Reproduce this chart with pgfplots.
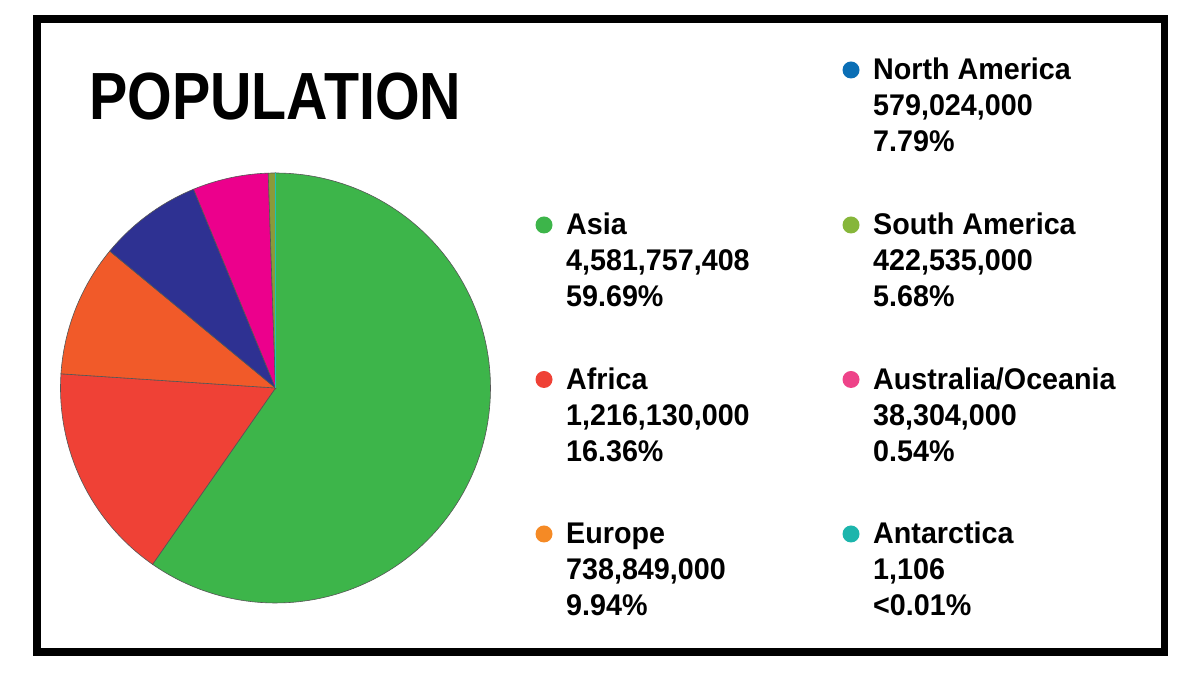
\documentclass[border=0pt]{standalone}
\usepackage{pgfplots}
\usepackage{pgfplotstable}
\pgfplotsset{compat=1.18}
\usepackage{fontspec}
\setmainfont{Liberation Sans}
\newfontfamily\titlefont[FakeStretch=0.86]{Liberation Sans}
\newfontfamily\legfont[FakeStretch=0.96]{Liberation Sans}

\definecolor{pieAsia}{HTML}{3DB54A}
\definecolor{pieAfrica}{HTML}{EF4136}
\definecolor{pieEurope}{HTML}{F15A29}
\definecolor{pieNA}{HTML}{2E3192}
\definecolor{pieAus}{HTML}{EC008C}
\definecolor{pieSA}{HTML}{8A9A3A}
\definecolor{pieAnt}{HTML}{1FBFB8}
\definecolor{sliceline}{HTML}{555555}

\definecolor{dotAsia}{HTML}{3DB54A}
\definecolor{dotAfrica}{HTML}{EF4136}
\definecolor{dotEurope}{HTML}{F58A25}
\definecolor{dotNA}{HTML}{0A6EB5}
\definecolor{dotSA}{HTML}{86B63A}
\definecolor{dotAus}{HTML}{EE4389}
\definecolor{dotAnt}{HTML}{1CB5AC}

% slices as drawn in the pie, clockwise from 12 o'clock (percent)
\pgfplotstableread{
pct color edge
59.69 pieAsia sliceline
16.36 pieAfrica sliceline
9.94 pieEurope sliceline
7.79 pieNA sliceline
5.68 pieAus sliceline
0.54 pieSA sliceline
0.01 pieAnt pieAnt
}\piedata

\begin{document}
\begin{tikzpicture}[x=1bp,y=1bp]
\path (0,0) rectangle (1200,675);
\draw[line width=7.5bp] (37,656) rectangle (1164.5,23);

\begin{axis}[at={(275.5bp,287bp)}, anchor=center, width=430bp, height=430bp,
  scale only axis, hide axis, xmin=-1, xmax=1, ymin=-1, ymax=1, clip=false]
\pgfmathsetmacro\cum{0}
\pgfplotsforeachungrouped \i in {0,...,6}{%
  \pgfplotstablegetelem{\i}{pct}\of\piedata \let\p\pgfplotsretval
  \pgfplotstablegetelem{\i}{color}\of\piedata \let\c\pgfplotsretval
  \pgfplotstablegetelem{\i}{edge}\of\piedata \let\e\pgfplotsretval
  \pgfmathsetmacro\angA{90-3.6*(\cum+\p)}%
  \pgfmathsetmacro\angB{90-3.6*\cum}%
  \pgfmathsetmacro\cum{\cum+\p}%
  \edef\doslice{\noexpand\addplot[fill=\c, draw=\e, line width=0.6pt,
     domain=\angA:\angB, samples=120, variable=\noexpand\t]
     ({cos(\noexpand\t)},{sin(\noexpand\t)}) -- (axis cs:0,0) -- cycle;}%
  \doslice
}
\end{axis}

\node[anchor=base west, inner sep=0pt, font=\titlefont\bfseries\fontsize{67}{67}\selectfont] at (89,555) {POPULATION};

\newcommand\legentry[6]{%
  \fill[#4] (#1-22,#2+10) circle[radius=8.5];
  \node[anchor=base west, inner sep=0pt, font=\legfont\bfseries\fontsize{30}{30}\selectfont] at (#1,#2) {#3};
  \node[anchor=base west, inner sep=0pt, font=\legfont\bfseries\fontsize{30}{30}\selectfont] at (#1,#2-36) {#5};
  \node[anchor=base west, inner sep=0pt, font=\legfont\bfseries\fontsize{30}{30}\selectfont] at (#1,#2-72) {#6};
}
\legentry{566}{440}{Asia}{dotAsia}{4,581,757,408}{59.69\%}
\legentry{566}{285.5}{Africa}{dotAfrica}{1,216,130,000}{16.36\%}
\legentry{566}{131}{Europe}{dotEurope}{738,849,000}{9.94\%}
\legentry{873}{595}{North America}{dotNA}{579,024,000}{7.79\%}
\legentry{873}{440}{South America}{dotSA}{422,535,000}{5.68\%}
\legentry{873}{285.5}{Australia/Oceania}{dotAus}{38,304,000}{0.54\%}
\legentry{873}{131}{Antarctica}{dotAnt}{1,106}{<0.01\%}
\end{tikzpicture}
\end{document}
